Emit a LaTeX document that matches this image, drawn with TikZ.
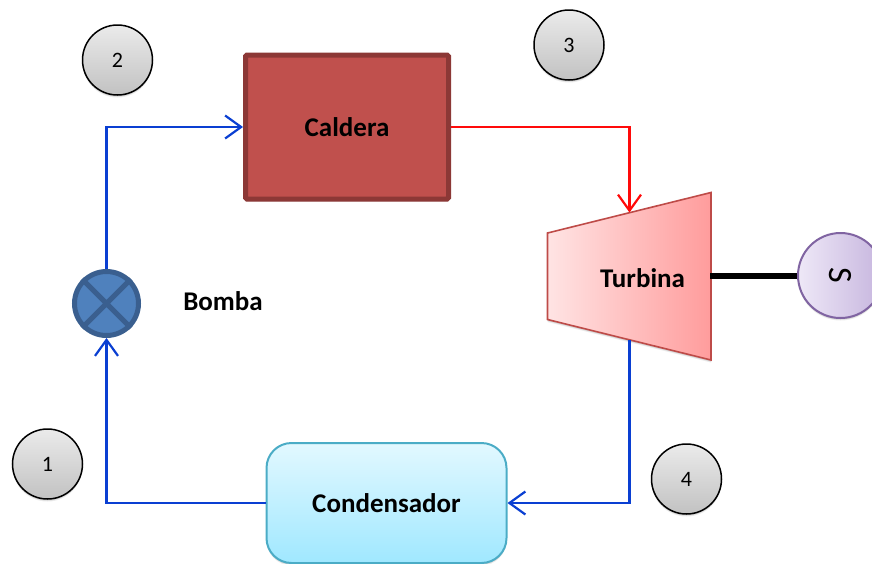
\documentclass[tikz,border=0pt]{standalone}
\usepackage{fontspec}
\setmainfont{Carlito}
\usetikzlibrary{arrows.meta,shadows}
\definecolor{flowblue}{HTML}{0A3FD2}
\definecolor{flowred}{HTML}{FF0A0A}
\tikzset{
  softshadow/.style={
    general shadow={shadow xshift=0pt,shadow yshift=-2.5pt,fill=black,opacity=.08},
    general shadow={shadow xshift=0pt,shadow yshift=-1.5pt,fill=black,opacity=.12}},
  statecircle/.style={circle,draw=black,line width=1.5pt,minimum width=70pt,inner sep=0pt,
    top color=black!8,bottom color=black!24,softshadow,font=\fontsize{22}{24}\selectfont},
  label/.style={font=\fontsize{27}{30}\selectfont\bfseries,inner sep=0pt},
  flow/.style={line width=2.2pt,flowblue,-{Straight Barb[length=16pt,width=23pt,line width=2.2pt]}},
  hot/.style={line width=2.2pt,flowred,-{Straight Barb[length=16pt,width=23pt,line width=2.2pt]}},
  boiler/.style={rectangle,rounded corners=1.5pt,draw=HotRim,line width=5pt,fill=HotFill,
    minimum width=203pt,minimum height=144pt,softshadow,font=\fontsize{27}{30}\selectfont\bfseries},
  condenser/.style={rectangle,rounded corners=25pt,draw=CoolRim,line width=2pt,
    top color=CoolTop,bottom color=CoolBot,minimum width=240pt,minimum height=120pt,softshadow,
    font=\fontsize{27}{30}\selectfont\bfseries},
  pump/.style={circle,draw=PumpRim,line width=5pt,fill=PumpFill,minimum width=64pt,inner sep=0pt},
  generator/.style={circle,draw=GenRim,line width=2pt,left color=GenL,right color=GenR,
    minimum width=85pt,inner sep=0pt,softshadow},
}
\definecolor{HotRim}{HTML}{8C3836}
\definecolor{HotFill}{HTML}{C0504D}
\definecolor{CoolRim}{HTML}{4BACC6}
\definecolor{CoolTop}{HTML}{E2F8FF}
\definecolor{CoolBot}{HTML}{A0E8FF}
\definecolor{PumpRim}{HTML}{3A5F8F}
\definecolor{PumpFill}{HTML}{4F81BD}
\definecolor{GenRim}{HTML}{8064A2}
\definecolor{GenL}{HTML}{EEE8F7}
\definecolor{GenR}{HTML}{C6B5DE}
\definecolor{TurbL}{HTML}{FFE4E4}
\definecolor{TurbR}{HTML}{FF9C9C}
\definecolor{TurbRim}{HTML}{BE4B48}
\begin{document}
\begin{tikzpicture}[x=1pt,y=-1pt]
\useasboundingbox (0,0) rectangle (872,563);
% state markers
\node[statecircle] (s2) at (117.5,60) {2};
\node[statecircle] (s3) at (569,45) {3};
\node[statecircle] (s1) at (47.5,464) {1};
\node[statecircle] (s4) at (686.5,479) {4};
% equipment
\node[boiler] (caldera) at (347,127) {Caldera};
\node[condenser] (cond) at (386.5,503) {Condensador};
\node[pump] (bomba) at (106.5,303.5) {};
\draw[PumpRim,line width=5pt] (bomba.45) -- (bomba.225) (bomba.135) -- (bomba.315);
\node[label,anchor=center] (bombatxt) at (223,301) {Bomba};
% turbine
\coordinate (tin) at (629.5,212.5);
\coordinate (tout) at (629.5,340);
\path[draw=TurbRim,line width=1.6pt,left color=TurbL,right color=TurbR,softshadow]
  (547.5,233) -- (711,192.5) -- (711,360) -- (547.5,319.5) -- cycle;
\node[label] (turbina) at (642.5,278) {Turbina};
% generator
\node[generator] (gen) at (840.5,275.5) {\rotatebox{-90}{\fontsize{34}{36}\selectfont S}};
\coordinate (tshaft) at (710,275.5);
\draw[line width=6pt,black] (tshaft) -- (gen.west);
% connectors
\draw[flow] (bomba.north) |- (caldera.west);
\draw[hot] (caldera.east) -| (tin);
\draw[flow] (tout) |- (cond.east);
\draw[flow] (cond.west) -| (bomba.south);
\end{tikzpicture}
\end{document}
